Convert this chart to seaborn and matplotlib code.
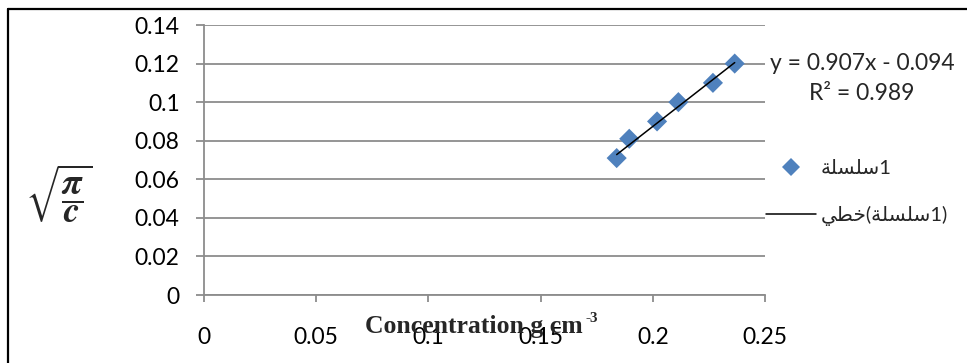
import matplotlib
matplotlib.use("Agg")
import matplotlib.pyplot as plt
from matplotlib.lines import Line2D
import seaborn as sns
import pandas as pd

# Measured data: concentration (g cm^-3) and sqrt(pi / c)
concentration = [0.1839, 0.1895, 0.2019, 0.2114, 0.2268, 0.2365]
sqrt_pi_over_c = [0.071, 0.081, 0.090, 0.100, 0.110, 0.120]

# Linear trendline parameters
fit_slope = 0.907
fit_intercept = -0.094
r_squared = 0.989

x_ticks = [0, 0.05, 0.1, 0.15, 0.2, 0.25]
x_tick_labels = ["0", "0.05", "0.1", "0.15", "0.2", "0.25"]
y_ticks = [0, 0.02, 0.04, 0.06, 0.08, 0.1, 0.12, 0.14]
y_tick_labels = ["0", "0.02", "0.04", "0.06", "0.08", "0.1", "0.12", "0.14"]

# Legend labels, written with Arabic presentation forms in visual order
# (matplotlib does not shape or reorder Arabic text on its own)
SERIES_WORD = "\uFE94\uFEE0\uFEB4\uFEE0\uFEB3"  # سلسلة
LINEAR_WORD = "\uFEF2\uFEC4\uFEA7"              # خطي
series_label = SERIES_WORD + "1"
trend_label = LINEAR_WORD + "(" + SERIES_WORD + "1)"

sns.set_theme(style="white")
plt.rcParams["font.family"] = ["Lato", "DejaVu Sans"]

BLUE = "#4F81BD"
GREY = "#8C8C8C"
W, H = 967, 363
TICK_SIZE = 16.5

fig = plt.figure(figsize=(W / 100, H / 100), dpi=100)
ax = fig.add_axes([204 / W, 1 - 295 / H, (765 - 204) / W, (295 - 25) / H])

df = pd.DataFrame({"conc": concentration, "root": sqrt_pi_over_c})
sns.scatterplot(data=df, x="conc", y="root", marker="D", s=105, color=BLUE,
                edgecolor="none", linewidth=0, ax=ax, zorder=3, legend=False)

trend_x = [min(concentration), max(concentration)]
trend_y = [fit_slope * v + fit_intercept for v in trend_x]
sns.lineplot(x=trend_x, y=trend_y, color="black", linewidth=1.1, ax=ax,
             zorder=4, legend=False)

ax.set_xlim(0, 0.25)
ax.set_ylim(0, 0.14)
ax.set_xticks(x_ticks)
ax.set_xticklabels(x_tick_labels)
ax.set_yticks(y_ticks)
ax.set_yticklabels(y_tick_labels)
ax.set_xlabel("")
ax.set_ylabel("")

ax.yaxis.grid(True, color=GREY, linewidth=1.3)
ax.xaxis.grid(False)
ax.set_axisbelow(True)
for side in ("top", "right"):
    ax.spines[side].set_visible(False)
for side in ("left", "bottom"):
    ax.spines[side].set_color(GREY)
    ax.spines[side].set_linewidth(1.3)

ax.tick_params(axis="y", direction="out", length=5.5, width=1.3, color=GREY,
               pad=12, labelsize=TICK_SIZE, labelcolor="black", left=True)
ax.tick_params(axis="x", direction="out", length=5, width=1.3, color=GREY,
               pad=18, labelsize=TICK_SIZE, labelcolor="black", bottom=True)

# Trendline equation and fit quality
fig.text(862 / W, 1 - 63 / H, f"y = {fit_slope}x - {abs(fit_intercept)}",
         ha="center", va="center", fontsize=TICK_SIZE)
fig.text(862 / W, 1 - 94 / H, f"R² = {r_squared}",
         ha="center", va="center", fontsize=TICK_SIZE)

# Legend
handles = [
    Line2D([], [], marker="D", linestyle="none", color=BLUE, markersize=9,
           markeredgewidth=0),
    Line2D([], [], color="black", linewidth=1.1),
]
fig.legend(handles, [series_label, trend_label], loc="upper left",
           bbox_to_anchor=(766 / W, 1 - 160 / H), frameon=False, fontsize=14.5,
           handlelength=2.5, handletextpad=0.2, labelspacing=1.42,
           borderpad=0, borderaxespad=0)

# Vertical axis title: sqrt(pi / c)
fig.text(59 / W, 1 - 194 / H,
         r"$\sqrt{\dfrac{\boldsymbol{\pi}}{\boldsymbol{c}}}$",
         ha="center", va="center", fontsize=26, math_fontfamily="stix")

# Horizontal axis title with its unit exponent
fig.text(474 / W, 1 - 333 / H, "Concentration g cm",
         ha="center", va="baseline", fontsize=18.5, fontweight="bold",
         family="Liberation Serif")
fig.text(586 / W, 1 - 322 / H, "-3",
         ha="left", va="baseline", fontsize=11, fontweight="bold",
         family="Liberation Serif")

# Outer frame (top and left edges)
fig.add_artist(Line2D([8 / W, 1], [1 - 9 / H, 1 - 9 / H],
                      transform=fig.transFigure, color="black", linewidth=1.6))
fig.add_artist(Line2D([8 / W, 8 / W], [0, 1 - 9 / H],
                      transform=fig.transFigure, color="black", linewidth=1.6))

fig.savefig("out.png", dpi=100, facecolor="white")
